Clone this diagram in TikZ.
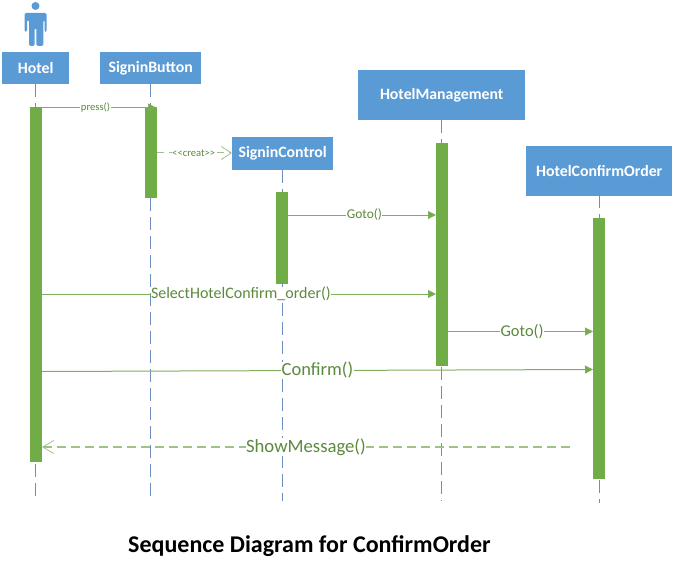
\documentclass[tikz,border=0pt]{standalone}
\usepackage{fontspec}
\setmainfont{Carlito}
\usetikzlibrary{arrows.meta}
\definecolor{boxblue}{HTML}{5B9BD5}
\definecolor{barGreen}{HTML}{70AD47}
\definecolor{lineGreen}{HTML}{7FAE5C}
\definecolor{txtGreen}{HTML}{5B8A3C}
\definecolor{lifeC}{HTML}{6C8EBF}
\tikzset{
  actorbox/.style={fill=boxblue,draw=none,inner sep=0pt,anchor=north west,text=white,font=\bfseries\fontsize{15.8}{16}\selectfont,align=center},
  lifeline/.style={draw=lifeC,line width=0.9pt,dash pattern=on 13pt off 6pt},
  activation/.style={fill=barGreen,draw=none,inner sep=0pt,anchor=north west},
  msg/.style={draw=lineGreen,line width=1pt,-{Triangle[length=8pt,width=8pt,fill=barGreen]}},
  createmsg/.style={draw=lineGreen!75,line width=1pt,dash pattern=on 7pt off 5pt,-{Straight Barb[length=10pt,width=13pt,line width=0.8pt]}},
  replymsg/.style={draw=lineGreen!75,line width=1.1pt,dash pattern=on 9pt off 5pt,-{Straight Barb[length=11pt,width=13pt,line width=0.8pt]}},
  msglabel/.style={fill=white,inner sep=0.5pt,text=txtGreen,font=\fontsize{#1}{#1}\selectfont},
  person/.style={fill=boxblue,draw=none}
}
\begin{document}
\begin{tikzpicture}[x=1pt,y=-1pt]
\useasboundingbox (0,0) rectangle (674,572);
% actor figure
\fill[person] (35.5,6) circle (4pt);
\fill[person,rounded corners=1.5pt] (24.5,13) -- (46.5,13) -- (46.5,32) -- (44.5,32) -- (44.5,20) -- (43.3,20) -- (43.3,46) -- (36.3,46) -- (36.3,28) -- (34.7,28) -- (34.7,46) -- (29,46) -- (29,20) -- (27,20) -- (27,32) -- (24.5,32) -- cycle;
% actor boxes
\node[actorbox,minimum width=67pt,minimum height=32pt] (hotel) at (2,52) {Hotel};
\node[actorbox,minimum width=101pt,minimum height=32pt] (button) at (100,52) {SigninButton};
\node[actorbox,minimum width=101pt,minimum height=33pt] (control) at (232,137) {SigninControl};
\node[actorbox,minimum width=167pt,minimum height=50pt] (mgmt) at (358,70) {HotelManagement};
\node[actorbox,minimum width=146pt,minimum height=50pt] (confirm) at (526,146) {HotelConfirmOrder};
% lifeline ends
\coordinate (hotelEnd) at (35.5,501);
\coordinate (buttonEnd) at (150.5,501);
\coordinate (controlEnd) at (282,501);
\coordinate (mgmtEnd) at (441.5,501);
\coordinate (confirmEnd) at (599,503);
\draw[lifeline] (35.5,84) -- (hotelEnd);
\draw[lifeline] (150.5,84) -- (buttonEnd);
\draw[lifeline] (282,170) -- (controlEnd);
\draw[lifeline] (441.5,120) -- (mgmtEnd);
\draw[lifeline] (599,195) -- (confirmEnd);
% activations
\node[activation,minimum width=12pt,minimum height=355pt] (aHotel) at (29.5,107) {};
\node[activation,minimum width=12pt,minimum height=91pt] (aButton) at (144.5,107) {};
\node[activation,minimum width=12pt,minimum height=92pt] (aControl) at (276,192) {};
\node[activation,minimum width=12pt,minimum height=223pt] (aMgmt) at (436,143) {};
\node[activation,minimum width=12pt,minimum height=261pt] (aConfirm) at (593,218) {};
% messages
\draw[msg] (aHotel.east |- 0,107.5) -- node[msglabel=10.6,pos=0.47] {press()} (156,107.5);
\draw[createmsg] (aButton.east |- 0,153) -- node[msglabel=10.6,pos=0.49] {{<}{<}creat{>}{>}} (control.west |- 0,153);
\draw[msg] (aControl.east |- 0,215) -- node[msglabel=13.4,pos=0.515] {Goto()} (aMgmt.west |- 0,215);
\draw[msg] (aHotel.east |- 0,294) -- node[msglabel=16,pos=0.505] {SelectHotelConfirm\_order()} (aMgmt.west |- 0,294);
\draw[msg] (aMgmt.east |- 0,331.5) -- node[msglabel=16.5,pos=0.51] {Goto()} (aConfirm.west |- 0,331.5);
\draw[msg] (aHotel.east |- 0,371.5) -- node[msglabel=18.5,pos=0.5] {Confirm()} (aConfirm.west |- 0,369.5);
\coordinate (replyStart) at (570,447);
\draw[replymsg] (replyStart) -- node[msglabel=18.7,pos=0.5] {ShowMessage()} (aHotel.east |- replyStart);
% title
\node[font=\bfseries\fontsize{24}{24}\selectfont,text=black] (title) at (309.5,546) {Sequence Diagram for ConfirmOrder};
\end{tikzpicture}
\end{document}
